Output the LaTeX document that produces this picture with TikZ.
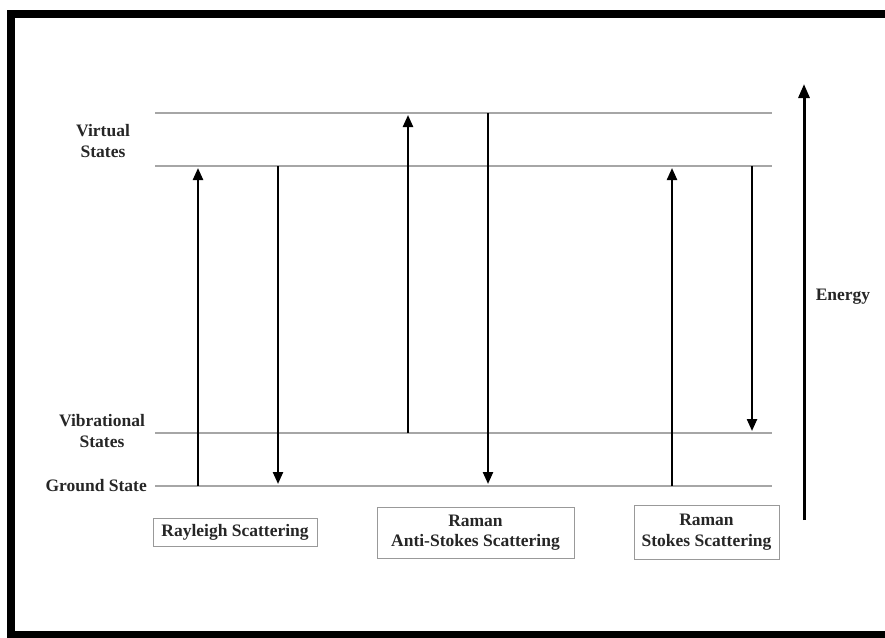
\documentclass[tikz,border=0pt]{standalone}
\usepackage{fontspec}
\setmainfont{Liberation Serif}
\usetikzlibrary{arrows.meta}

\begin{document}
\begin{tikzpicture}
		[x=1pt, y=-1pt,
		every node/.style={font=\fontsize{17.5}{20.5}\selectfont\bfseries, text=black!85, align=center, inner sep=0pt},
		level/.style={gray!70, line width=1.2pt},
		trans/.style={line width=2.3pt, shorten >=2pt, -{Triangle[length=12pt,width=10pt]}},
		energy/.style={line width=3pt, -{Triangle[length=14pt,width=11pt]}},
		kind/.style={draw=gray!80, line width=0.8pt},
		]
		\useasboundingbox (0,0) rectangle (885,637);
		\draw[line width=8pt] (900,14) -- (10.5,14) -- (10.5,635) -- (900,635);

		% Niveaus
		\coordinate (virtA) at (155,113);
		\coordinate (virtB) at (155,166);
		\coordinate (vib) at (155,433);
		\coordinate (ground) at (155,486);
		\foreach \lev in {virtA,virtB,vib,ground}
			\draw[level] (\lev) -- (772,0 |- \lev);

		\node (virtlab) at (103,141) {Virtual\\States};
		\node (viblab) at (102,431) {Vibrational\\States};
		\node[anchor=east] (groundlab) at (147,486) {Ground State};

		% Übergänge
		\foreach \x/\from/\to in {198/ground/virtB, 278/virtB/ground, 408/vib/virtA, 488/virtA/ground, 672/ground/virtB, 752/virtB/vib}
			\draw[trans] (\x,0 |- \from) -- (\x,0 |- \to);

		\node[kind, minimum width=164pt, minimum height=28pt] (rayleigh) at (235,532) {Rayleigh Scattering};
		\node[kind, minimum width=197pt, minimum height=51pt] (anti) at (475.5,532.5) {Raman\\Anti-Stokes Scattering};
		\node[kind, minimum width=145pt, minimum height=54pt] (stokes) at (706.5,532) {Raman\\Stokes Scattering};

		\coordinate (ebot) at (804,520);
		\coordinate (etop) at (804,84);
		\draw[energy] (ebot) -- (etop);
		\node (energy) at (843,297) {Energy};
	\end{tikzpicture}
\end{document}
